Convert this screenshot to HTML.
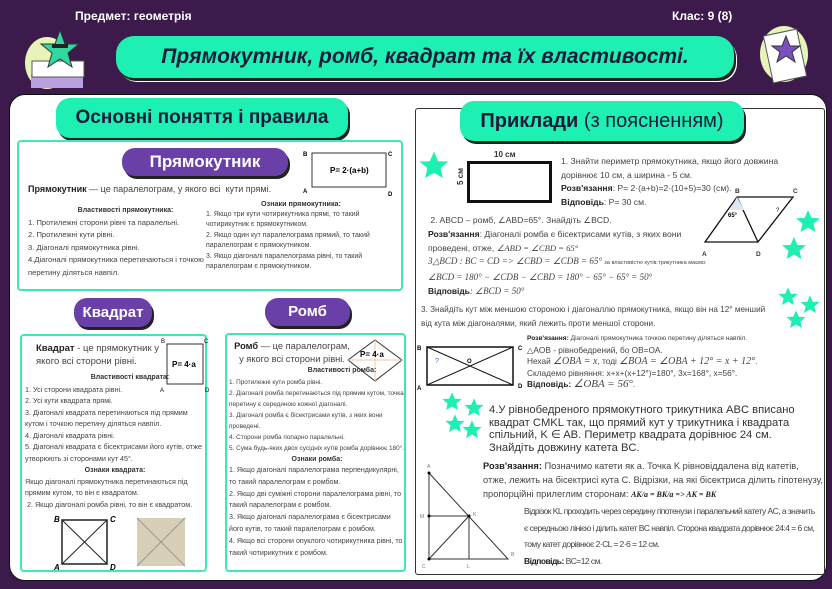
<!DOCTYPE html>
<html><head><meta charset="utf-8"><style>
*{margin:0;padding:0;box-sizing:border-box}
body{width:832px;height:589px;background:#3c1a4c;font-family:"Liberation Sans","DejaVu Sans",sans-serif;position:relative;overflow:hidden;color:#333}
.a{position:absolute}
.pill{position:absolute;background:#1ef0b4;border-radius:14px;box-shadow:2px 3px 0 #222, 3px 4px 0 #fff;text-align:center;color:#1a1a3a;font-family:"Liberation Sans",sans-serif}
.pp{position:absolute;background:#6a40a8;border-radius:13px;box-shadow:2px 3px 0 #222;color:#fff;font-weight:bold;text-align:center}
.box{position:absolute;border:2px solid #3ee8b4;border-radius:4px;background:#fff}
.t{font-size:8px;line-height:12.5px;color:#444}
.s{font-size:7px;line-height:10.5px;color:#444}
b{color:#222}
.h{font-weight:bold;text-align:center;color:#333}
</style></head><body>
<div class="a" style="left:75px;top:9px;color:#fff;font-weight:bold;font-size:12px">Предмет: геометрія</div>
<div class="a" style="left:672px;top:9px;color:#fff;font-weight:bold;font-size:12px">Клас: 9 (8)</div>
<svg class="a" style="left:12px;top:26px" width="74" height="68"><ellipse cx="35" cy="37" rx="22" ry="26" fill="#e6f4b8"/><rect x="19" y="48" width="52" height="14" fill="#b9a0e0"/><rect x="20" y="35" width="52" height="16" fill="#fff" stroke="#555"/><polygon points="48,4 53,18 67,18 56,27 60,41 48,33 36,41 40,27 29,18 43,18" fill="#2ed8a0" stroke="#333"/><rect x="40" y="18" width="16" height="4" fill="#222"/></svg>
<svg class="a" style="left:750px;top:14px" width="70" height="80"><ellipse cx="34" cy="40" rx="24" ry="28" fill="#e6f4b8"/><rect x="18" y="18" width="34" height="48" fill="#fff" stroke="#555" transform="rotate(-12 35 42)"/><polygon points="36,22 40,32 50,32 42,38 45,48 36,42 27,48 30,38 22,32 32,32" fill="#7a4fc0" stroke="#333"/></svg>
<div class="pill" style="left:116px;top:36px;width:618px;height:42px;font-size:21px;font-style:italic;font-weight:bold;line-height:42px;border-radius:18px">Прямокутник, ромб, квадрат та їх властивості.</div>
<div class="a" style="left:9px;top:94px;width:818px;height:487px;background:#fff;border-radius:16px;border:1px solid #111"></div>
<div class="pill" style="left:56px;top:98px;width:292px;height:40px;font-size:19px;font-weight:bold;line-height:40px">Основні поняття і правила</div>
<div class="a" style="left:415px;top:108px;width:410px;height:467px;border:1.5px solid #333;border-radius:3px;background:#fff"></div>
<div class="pill" style="left:460px;top:101px;width:284px;height:40px;font-size:20px;line-height:40px"><b style="color:#1a1a3a">Приклади</b> (з поясненням)</div>

<div class="box" style="left:17px;top:140px;width:386px;height:151px"></div>
<div class="pp" style="left:122px;top:148px;width:166px;height:28px;font-size:17px;line-height:28px">Прямокутник</div>
<svg class="a" style="left:300px;top:148px" width="100" height="50"><rect x="12" y="5" width="74" height="34" fill="none" stroke="#333"/><text x="3" y="8" font-size="6" font-weight="bold">B</text><text x="88" y="8" font-size="6" font-weight="bold">C</text><text x="3" y="45" font-size="6" font-weight="bold">A</text><text x="88" y="48" font-size="6" font-weight="bold">D</text><text x="30" y="25" font-size="8" font-weight="bold">P= 2·(a+b)</text></svg>
<div class="a t" style="left:28px;top:183px;font-size:9px"><b>Прямокутник</b> — це паралелограм, у якого всі &nbsp;кути прямі.</div>
<div class="a" style="left:28px;top:206px;width:180px">
<div class="s h" style="font-size:7px;padding-left:15px">Властивості прямокутника:</div>
<div class="t" style="font-size:7.6px">1. Протилежні сторони рівні та паралельні.<br>2. Протилежні кути рівні.<br>3. Діагоналі прямокутника рівні.<br>4.Діагоналі прямокутника перетинаються і точкою перетину діляться навпіл.</div></div>
<div class="a" style="left:206px;top:199px;width:190px">
<div class="s h" style="font-size:7.2px">Ознаки прямокутника:</div>
<div class="s">1. Якщо три кути чотирикутника прямі, то такий чотирикутник є прямокутником.<br>2. Якщо один кут паралелограма прямий, то такий паралелограм є прямокутником.<br>3. Якщо діагоналі паралелограма рівні, то такий паралелограм є прямокутником.</div></div>

<div class="pp" style="left:74px;top:298px;width:78px;height:29px;font-size:15px;line-height:29px">Квадрат</div>
<div class="box" style="left:20px;top:334px;width:187px;height:238px"></div>
<div class="a t" style="left:36px;top:342px;font-size:9.5px;line-height:13px;width:125px"><b>Квадрат</b> - це прямокутник у якого всі сторони рівні.</div>
<svg class="a" style="left:160px;top:338px" width="50" height="56"><rect x="7" y="6" width="36" height="40" fill="none" stroke="#333"/><text x="1" y="5" font-size="6">B</text><text x="44" y="5" font-size="6">C</text><text x="0" y="54" font-size="6">A</text><text x="45" y="54" font-size="6">D</text><text x="12" y="29" font-size="8" font-weight="bold">P= 4·a</text></svg>
<div class="a" style="left:25px;top:373px;width:180px">
<div class="s h" style="font-size:7px;padding-left:30px">Властивості квадрата:</div>
<div class="t" style="font-size:7.2px;line-height:11.6px">1. Усі сторони квадрата рівні.<br>2. Усі кути квадрата прямі.<br>3. Діагоналі квадрата перетинаються під прямим кутом і точкою перетину діляться навпіл.<br>4. Діагоналі квадрата рівні.<br>5. Діагоналі квадрата є бісектрисами його кутів, отже утворюють зі сторонами кут 45°.</div>
<div class="s h" style="font-size:7px;line-height:11px">Ознаки квадрата:</div>
<div class="t" style="font-size:7.2px;line-height:11.6px">Якщо діагоналі прямокутника перетинаються під прямим кутом, то він є квадратом.<br>&nbsp;2. Якщо діагоналі ромба рівні, то він є квадратом.</div></div>
<svg class="a" style="left:52px;top:512px" width="150" height="60"><rect x="10" y="8" width="45" height="44" fill="none" stroke="#222" stroke-width="1.5"/><line x1="10" y1="8" x2="55" y2="52" stroke="#222"/><line x1="55" y1="8" x2="10" y2="52" stroke="#222"/><text x="2" y="10" font-size="8" font-style="italic" font-weight="bold">B</text><text x="58" y="10" font-size="8" font-style="italic" font-weight="bold">C</text><text x="2" y="58" font-size="8" font-style="italic" font-weight="bold">A</text><text x="58" y="58" font-size="8" font-style="italic" font-weight="bold">D</text><rect x="85" y="6" width="48" height="48" fill="#d8cfb8"/><line x1="85" y1="6" x2="133" y2="54" stroke="#998"/><line x1="133" y1="6" x2="85" y2="54" stroke="#998"/></svg>

<div class="pp" style="left:265px;top:298px;width:85px;height:28px;font-size:15px;line-height:28px">Ромб</div>
<div class="box" style="left:225px;top:333px;width:181px;height:239px"></div>
<div class="a t" style="left:231px;top:340px;font-size:9.3px;line-height:13px;width:122px;text-align:center"><b>Ромб</b> — це паралелограм, у якого всі сторони рівні.</div>
<svg class="a" style="left:346px;top:337px" width="60" height="50"><polygon points="29,3 56,23 29,44 2,23" fill="#fff" stroke="#333"/><line x1="29" y1="3" x2="29" y2="44" stroke="#f3c79a"/><line x1="2" y1="23" x2="56" y2="23" stroke="#f3c79a"/><text x="14" y="20" font-size="8" font-weight="bold">P= 4·a</text></svg>
<div class="a" style="left:229px;top:370px;width:176px">
<div class="s h" style="font-size:7px;padding-left:50px;margin-top:-4px">Властивості ромба:</div>
<div class="s" style="font-size:6.4px;line-height:11px">1. Протилежні кути ромба рівні.<br>2. Діагоналі ромба перетинаються під прямим кутом, точка перетину є серединою кожної діагоналі.<br>3. Діагоналі ромба є бісектрисами кутів, з яких вони проведені.<br>4. Сторони ромба попарно паралельні.<br>5. Сума будь-яких двох сусідніх кутів ромба дорівнює 180°.</div>
<div class="s h" style="font-size:7px;line-height:11.5px">Ознаки ромба:</div>
<div class="t" style="font-size:7.1px;line-height:11.8px">1. Якщо діагоналі паралелограма перпендикулярні, то такий паралелограм є ромбом.<br>2. Якщо дві суміжні сторони паралелограма рівні, то такий паралелограм є ромбом.<br>3. Якщо діагоналі паралелограма є бісектрисами його кутів, то такий паралелограм є ромбом.<br>4. Якщо всі сторони опуклого чотирикутника рівні, то такий чотирикутник є ромбом.</div></div>

<svg class="a" style="left:0;top:0" width="832" height="589"><defs><polygon id="st" points="0,-12 3.5,-4 12,-3.7 5.5,1.8 7.4,10 0,5.6 -7.4,10 -5.5,1.8 -12,-3.7 -3.5,-4" fill="#1ef0b4"/></defs>
<use href="#st" transform="translate(434,166) scale(1.2)"/><use href="#st" transform="translate(808,222)"/><use href="#st" transform="translate(794,249)"/><use href="#st" transform="translate(788,297) scale(0.8)"/><use href="#st" transform="translate(810,305) scale(0.8)"/><use href="#st" transform="translate(796,320) scale(0.8)"/><use href="#st" transform="translate(452,402) scale(0.8)"/><use href="#st" transform="translate(474,408) scale(0.8)"/><use href="#st" transform="translate(455,424) scale(0.8)"/><use href="#st" transform="translate(472,430) scale(0.8)"/></svg>

<div class="a" style="left:494px;top:150px;font-size:8px;font-weight:bold">10 см</div>
<div class="a" style="left:452px;top:172px;font-size:8px;font-weight:bold;transform:rotate(-90deg)">5 см</div>
<div class="a" style="left:467px;top:161px;width:85px;height:42px;border:3px solid #111"></div>
<div class="a t" style="left:561px;top:155px;font-size:8.6px;line-height:13.5px;width:245px">1. Знайти периметр прямокутника, якщо його довжина дорівнює 10 см, а ширина - 5 см.<br><b>Розв'язання</b>: Р= 2·(a+b)=2·(10+5)=30 (см).<br><b>Відповідь</b>: Р= 30 см.</div>
<svg class="a" style="left:700px;top:194px" width="100" height="56"><polygon points="37,3 93,3 58,48 5,48" fill="none" stroke="#111" stroke-width="1.3"/><line x1="37" y1="3" x2="58" y2="48" stroke="#111" stroke-width="1.3"/><polygon points="37,3 44,16 30,16" fill="#dde6f5"/><text x="28" y="23" font-size="6" font-weight="bold">65°</text><text x="76" y="18" font-size="6">?</text></svg>
<div class="a" style="left:735px;top:188px;font-size:6.5px;font-weight:bold">B</div>
<div class="a" style="left:793px;top:188px;font-size:6.5px;font-weight:bold">C</div>
<div class="a" style="left:702px;top:251px;font-size:6.5px;font-weight:bold">A</div>
<div class="a" style="left:756px;top:251px;font-size:6.5px;font-weight:bold">D</div>
<div class="a t" style="left:428px;top:213px;font-size:8.6px;line-height:14px;width:275px">&nbsp;2. ABCD – ромб, ∠ABD=65°. Знайдіть ∠BCD.<br><b>Розв'язання</b>: Діагоналі ромба є бісектрисами кутів, з яких вони проведені, отже, <i style="font-family:'Liberation Serif'">∠ABD = ∠CBD = 65°</i></div>
<div class="a t" style="left:428px;top:254px;font-size:9px;line-height:14px;width:390px;font-family:'Liberation Serif',serif;font-style:italic">З△BCD : BC = CD =&gt; ∠CBD = ∠CDB = 65° <span style="font-size:5.6px;font-style:normal;font-family:'Liberation Sans'">за властивістю кутів трикутника маємо:</span><br>∠BCD = 180° − ∠CDB − ∠CBD = 180° − 65° − 65° = 50°<br><b style="font-family:'Liberation Sans';font-style:normal;font-size:8.4px">Відповідь</b>: ∠BCD = 50°</div>

<div class="a t" style="left:421px;top:303px;font-size:8.2px;line-height:14px;width:355px">3. Знайдіть кут між меншою стороною і діагоналлю прямокутника, якщо він на 12° менший від кута між діагоналями, який лежить проти меншої сторони.</div>
<svg class="a" style="left:415px;top:340px" width="110" height="50"><rect x="12" y="7" width="86" height="38" fill="none" stroke="#111" stroke-width="1.5"/><line x1="12" y1="7" x2="98" y2="45" stroke="#111"/><line x1="12" y1="45" x2="98" y2="7" stroke="#111"/><text x="2" y="10" font-size="6" font-weight="bold">B</text><text x="103" y="10" font-size="6" font-weight="bold">C</text><text x="2" y="50" font-size="6" font-weight="bold">A</text><text x="103" y="48" font-size="6" font-weight="bold">D</text><text x="52" y="23" font-size="6" font-weight="bold">O</text><text x="20" y="23" font-size="7" fill="#36c">?</text></svg>
<div class="a t" style="left:527px;top:332px;font-size:8.3px;line-height:11.5px;width:300px"><span style="font-size:6.6px"><b>Розв'язання:</b> Діагоналі прямокутника точкою перетину діляться навпіл.</span><br>△AOB - рівнобедрений, бо OB=OA.<br>Нехай <i style="font-family:'Liberation Serif';font-size:10px">∠OBA = x</i>, тоді <i style="font-family:'Liberation Serif';font-size:10px">∠BOA = ∠OBA + 12° = x + 12°</i>.<br>Складемо рівняння: x+x+(x+12°)=180°, 3x=168°, x=56°.<br><b>Відповідь:</b> <i style="font-family:'Liberation Serif';font-size:11px">∠OBA = 56°</i>.</div>

<div class="a" style="left:489px;top:404px;font-size:11.2px;line-height:12.5px;width:330px;color:#333">4.У рівнобедреного прямокутного трикутника ABC вписано квадрат CMKL так, що прямий кут у трикутника і квадрата спільний, K ∈ AB. Периметр квадрата дорівнює 24 см. Знайдіть довжину катета BC.</div>
<div class="a t" style="left:483px;top:459px;font-size:9.3px;line-height:14px;width:340px"><b>Розв'язання:</b> Позначимо катети як а. Точка K рівновіддалена від катетів, отже, лежить на бісектрисі кута С. Відрізки, на які бісектриса ділить гіпотенузу, пропорційні прилеглим сторонам: <i style="font-family:'Liberation Serif';font-size:8px"><b>AK/a = BK/a =&gt; AK = BK</b></i></div>
<div class="a t" style="left:524px;top:503px;font-size:8.5px;line-height:16.5px;width:295px;letter-spacing:-0.55px">Відрізок KL проходить через середину гіпотенузи і паралельний катету AC, а значить є середньою лінією і ділить катет BC навпіл. Сторона квадрата дорівнює 24:4 = 6 см, тому катет дорівнює 2·CL = 2·6 = 12 см.<br><b>Відповідь:</b> BC=12 см.</div>
<svg class="a" style="left:418px;top:460px" width="100" height="110"><polyline points="11,13 11,99 90,99 11,13" fill="none" stroke="#333"/><line x1="11" y1="56" x2="51" y2="56" stroke="#333"/><line x1="51" y1="56" x2="51" y2="99" stroke="#333"/><line x1="11" y1="99" x2="51" y2="56" stroke="#333"/><circle cx="11" cy="13" r="1.5"/><circle cx="51" cy="56" r="1.5"/><circle cx="11" cy="56" r="1.5"/><circle cx="11" cy="99" r="1.5"/><text x="9" y="8" font-size="5" fill="#777">A</text><text x="2" y="58" font-size="5" fill="#777">M</text><text x="55" y="56" font-size="5" fill="#777">K</text><text x="4" y="108" font-size="5" fill="#777">C</text><text x="49" y="108" font-size="5" fill="#777">L</text><text x="93" y="96" font-size="5" fill="#777">B</text></svg>
</body></html>
